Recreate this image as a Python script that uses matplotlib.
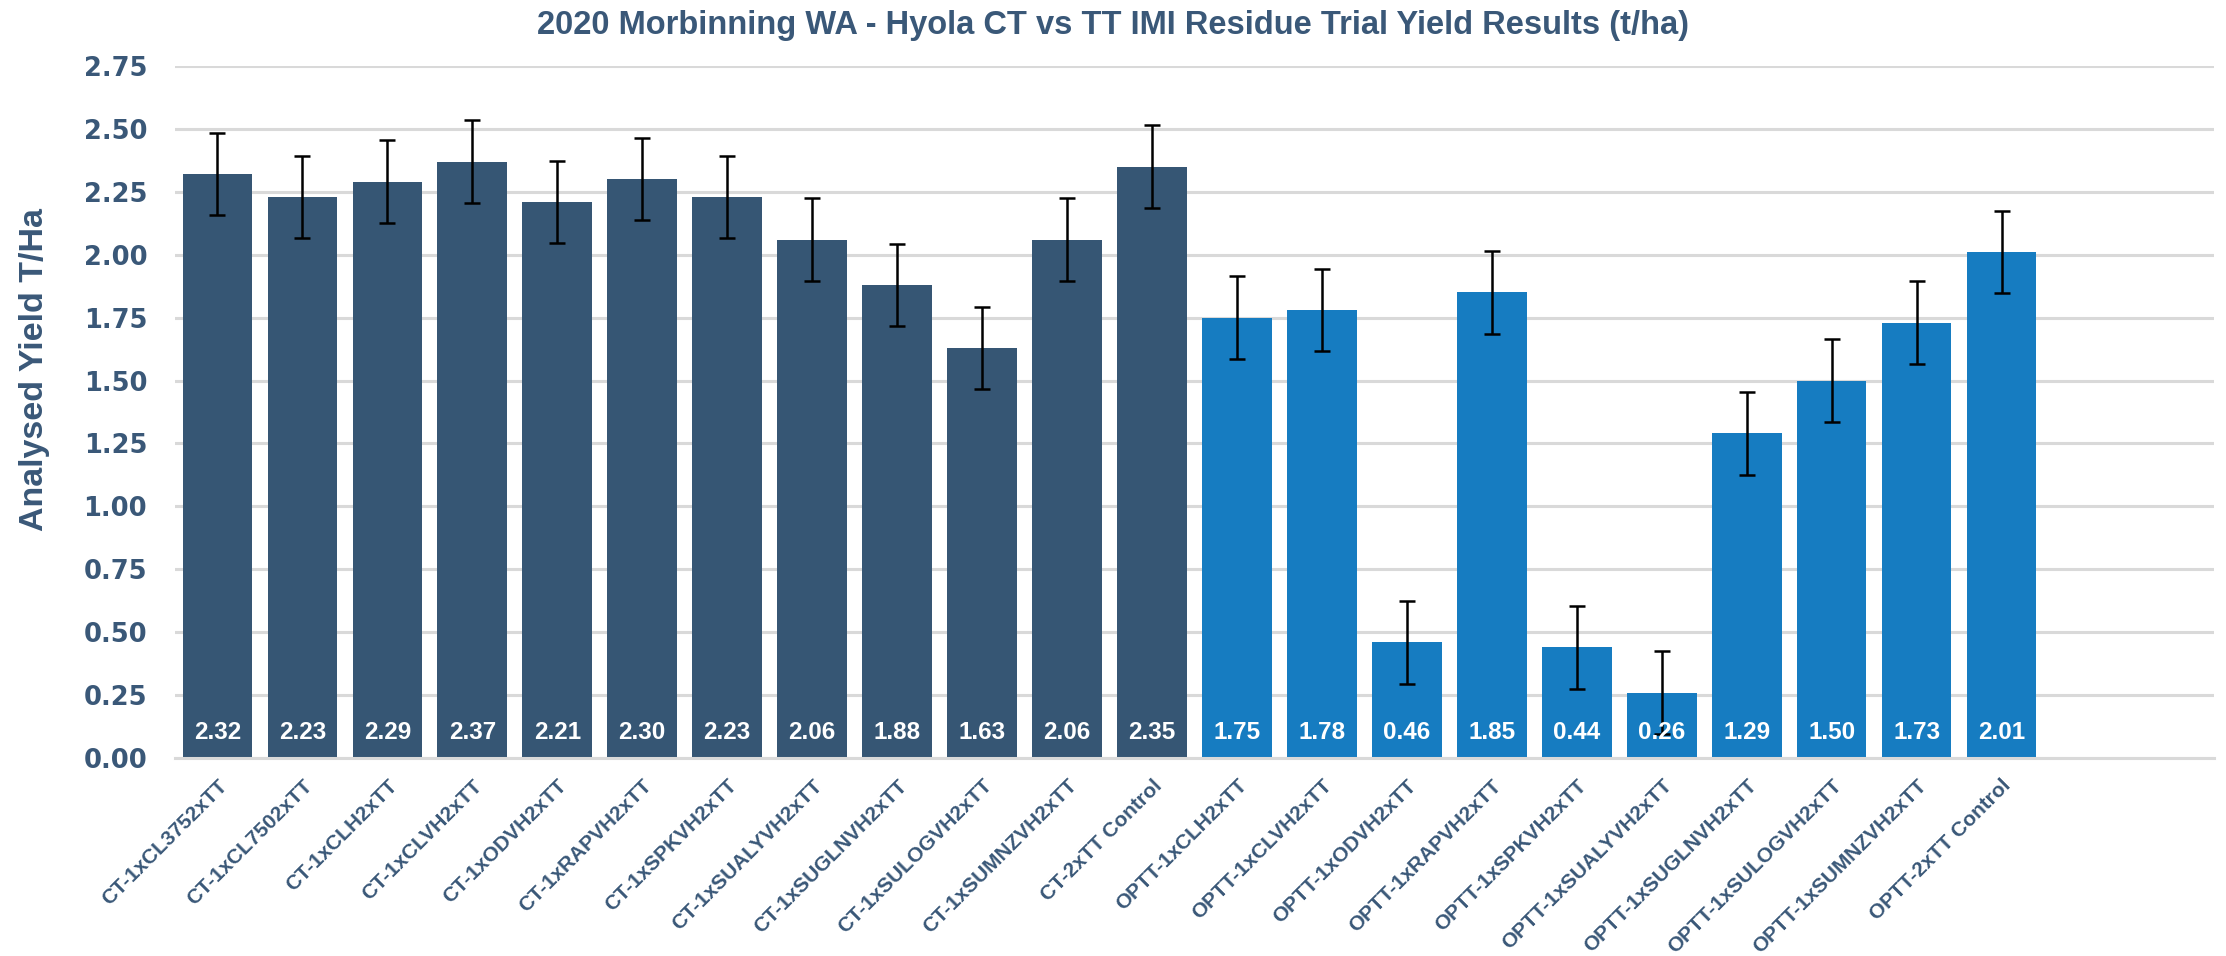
import numpy as np
import matplotlib
matplotlib.use("Agg")
import matplotlib.pyplot as plt

# Calibri-ish texts in a narrower face than DejaVu
narrow = ["Liberation Sans", "DejaVu Sans"]

categories = ["CT-1xCL3752xTT", "CT-1xCL7502xTT", "CT-1xCLH2xTT", "CT-1xCLVH2xTT",
              "CT-1xODVH2xTT", "CT-1xRAPVH2xTT", "CT-1xSPKVH2xTT", "CT-1xSUALYVH2xTT",
              "CT-1xSUGLNVH2xTT", "CT-1xSULOGVH2xTT", "CT-1xSUMNZVH2xTT", "CT-2xTT Control",
              "OPTT-1xCLH2xTT", "OPTT-1xCLVH2xTT", "OPTT-1xODVH2xTT", "OPTT-1xRAPVH2xTT",
              "OPTT-1xSPKVH2xTT", "OPTT-1xSUALYVH2xTT", "OPTT-1xSUGLNVH2xTT",
              "OPTT-1xSULOGVH2xTT", "OPTT-1xSUMNZVH2xTT", "OPTT-2xTT Control"]
yields = [2.32, 2.23, 2.29, 2.37, 2.21, 2.30, 2.23, 2.06, 1.88, 1.63, 2.06, 2.35,
          1.75, 1.78, 0.46, 1.85, 0.44, 0.26, 1.29, 1.50, 1.73, 2.01]
errors = [0.164] * 22  # same LSD bar on every treatment
groups = ["CT"] * 12 + ["OPTT"] * 10

colors = {"CT": "#365674", "OPTT": "#167CC1"}
txt = "#3A5878"

fig = plt.figure(figsize=(22.26, 9.56), dpi=100)
ax = fig.add_axes([0.0786, 0.2071, 0.9160, 0.7239])

x = np.arange(len(categories))
ax.bar(x, yields, width=0.82, color=[colors[g] for g in groups], zorder=2)
ax.errorbar(x, yields, yerr=errors, fmt="none", ecolor="black", elinewidth=1.8,
            capsize=6, capthick=1.8, zorder=3)

for xi, v in zip(x, yields):
    ax.text(xi, 0.1, f"{v:.2f}", ha="center", va="center", color="white",
            fontsize=17.5, fontweight="bold", family=narrow, zorder=4)

ax.set_xlim(-0.5, 23.5)
ax.set_ylim(0, 2.75)
ax.set_yticks(np.arange(0, 2.76, 0.25))
ax.set_yticklabels([f"{t:.2f}" for t in np.arange(0, 2.76, 0.25)],
                   fontsize=18.5, fontweight="bold", color=txt, family="DejaVu Sans")
ax.set_xticks(x)
ax.set_xticklabels(categories, rotation=45, ha="right", rotation_mode="anchor",
                   fontsize=15, fontweight="bold", color=txt, family=narrow)
ax.tick_params(axis="both", length=0)
ax.tick_params(axis="y", pad=20)
ax.tick_params(axis="x", pad=13)

ax.grid(axis="y", color="#D9D9D9", linewidth=2.2, zorder=0)
ax.set_axisbelow(True)
for s in ["top", "right", "left"]:
    ax.spines[s].set_visible(False)
ax.spines["bottom"].set_color("#D9D9D9")
ax.spines["bottom"].set_linewidth(2.2)

ax.set_ylabel("Analysed Yield T/Ha", fontsize=24.5, fontweight="bold", color=txt,
              family=narrow)
ax.yaxis.set_label_coords(-0.0613, 0.562)
fig.text(0.5, 0.973, "2020 Morbinning WA - Hyola CT vs TT IMI Residue Trial Yield Results (t/ha)",
         ha="center", va="center", fontsize=23.5, fontweight="bold", color=txt, family=narrow)

fig.savefig("out.png", dpi=100)
